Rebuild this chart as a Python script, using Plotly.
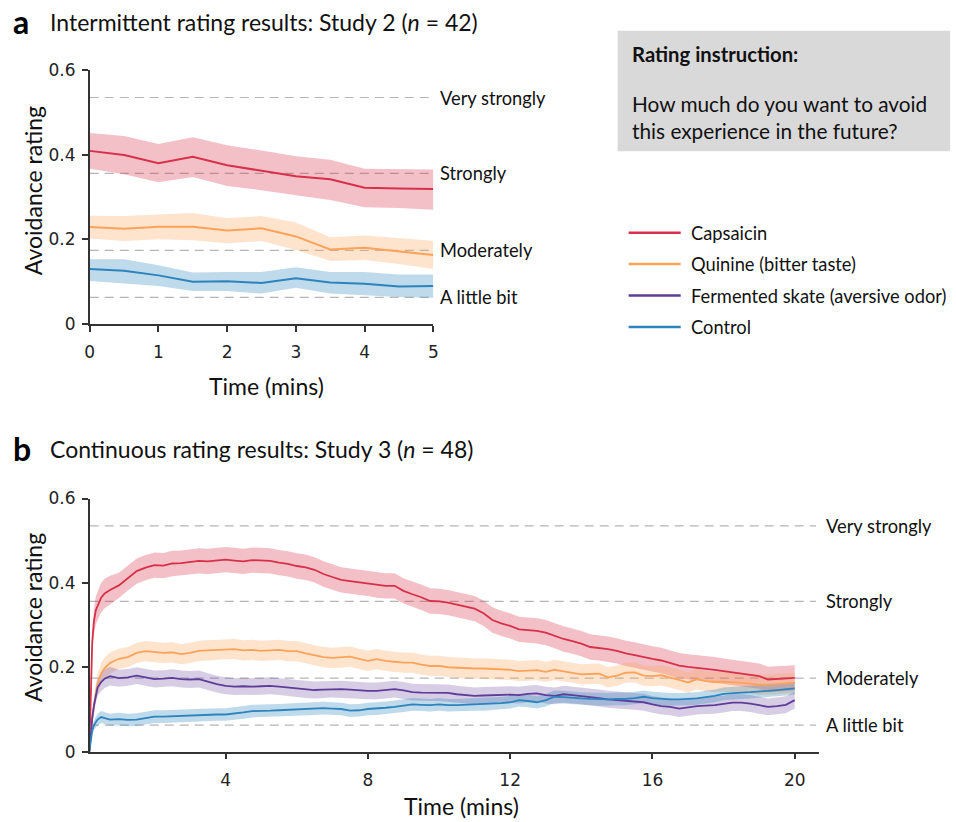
import plotly.graph_objects as go

# ---------------- Panel a data (intermittent, Study 2) ----------------
t_a = [0, 0.5, 1, 1.5, 2, 2.5, 3, 3.5, 4, 4.5, 5]
cap_a = [0.409, 0.399, 0.380, 0.395, 0.375, 0.362, 0.349, 0.342, 0.322, 0.320, 0.319]
cap_a_hi = [0.451, 0.444, 0.425, 0.441, 0.422, 0.410, 0.396, 0.388, 0.367, 0.366, 0.365]
cap_a_lo = [0.367, 0.354, 0.335, 0.347, 0.326, 0.316, 0.304, 0.293, 0.276, 0.274, 0.270]
qui_a = [0.229, 0.225, 0.230, 0.230, 0.221, 0.226, 0.207, 0.176, 0.180, 0.172, 0.163]
qui_a_hi = [0.256, 0.255, 0.259, 0.262, 0.250, 0.255, 0.240, 0.205, 0.209, 0.203, 0.197]
qui_a_lo = [0.202, 0.196, 0.200, 0.198, 0.191, 0.196, 0.175, 0.149, 0.151, 0.142, 0.130]
con_a = [0.130, 0.126, 0.115, 0.100, 0.101, 0.097, 0.108, 0.098, 0.095, 0.089, 0.090]
con_a_hi = [0.153, 0.153, 0.139, 0.122, 0.123, 0.123, 0.134, 0.123, 0.123, 0.117, 0.117]
con_a_lo = [0.102, 0.096, 0.090, 0.078, 0.078, 0.072, 0.086, 0.072, 0.068, 0.064, 0.062]

# ---------------- Panel b data (continuous, Study 3) ----------------
t_b_early = [0.17, 0.2, 0.25, 0.3, 0.35, 0.4, 0.5, 0.6, 0.75]
t_b_main = [round(1.0 + 0.25 * i, 2) for i in range(77)]
t_b = t_b_early + t_b_main

cap_b = [0.0, 0.12, 0.26, 0.31, 0.335, 0.345, 0.365, 0.375, 0.383,
         0.394, 0.412, 0.428, 0.436, 0.442, 0.441, 0.446, 0.447, 0.450, 0.452,
         0.451, 0.453, 0.455, 0.453, 0.451, 0.454, 0.453, 0.452, 0.448, 0.445,
         0.440, 0.437, 0.431, 0.421, 0.414, 0.407, 0.404, 0.401, 0.399, 0.395,
         0.393, 0.393, 0.381, 0.373, 0.366, 0.357, 0.356, 0.353, 0.348, 0.344,
         0.339, 0.328, 0.312, 0.304, 0.298, 0.290, 0.288, 0.286, 0.282, 0.275,
         0.267, 0.262, 0.256, 0.248, 0.246, 0.243, 0.239, 0.233, 0.229, 0.224,
         0.220, 0.216, 0.210, 0.204, 0.201, 0.199, 0.196, 0.194, 0.191, 0.188,
         0.185, 0.182, 0.179, 0.171, 0.172, 0.174, 0.175]
qui_b = [0.0, 0.04, 0.08, 0.11, 0.14, 0.16, 0.185, 0.198, 0.210,
         0.220, 0.224, 0.234, 0.238, 0.236, 0.234, 0.235, 0.231, 0.234, 0.239,
         0.240, 0.241, 0.243, 0.243, 0.240, 0.241, 0.239, 0.240, 0.241, 0.238,
         0.238, 0.233, 0.229, 0.224, 0.222, 0.223, 0.225, 0.220, 0.215, 0.219,
         0.215, 0.213, 0.211, 0.211, 0.206, 0.203, 0.203, 0.200, 0.199, 0.197,
         0.197, 0.197, 0.196, 0.195, 0.194, 0.191, 0.192, 0.193, 0.189, 0.194,
         0.190, 0.187, 0.183, 0.184, 0.185, 0.176, 0.180, 0.187, 0.188, 0.180,
         0.179, 0.181, 0.176, 0.170, 0.164, 0.172, 0.167, 0.165, 0.166, 0.165,
         0.163, 0.161, 0.158, 0.159, 0.160, 0.161, 0.163]
ska_b = [0.0, 0.04, 0.08, 0.11, 0.135, 0.152, 0.165, 0.173, 0.179,
         0.174, 0.176, 0.180, 0.176, 0.172, 0.173, 0.175, 0.172, 0.171, 0.172,
         0.166, 0.160, 0.156, 0.154, 0.155, 0.154, 0.155, 0.156, 0.154, 0.152,
         0.150, 0.147, 0.146, 0.147, 0.148, 0.148, 0.147, 0.145, 0.144, 0.144,
         0.146, 0.148, 0.145, 0.141, 0.140, 0.140, 0.140, 0.139, 0.136, 0.134,
         0.132, 0.133, 0.134, 0.134, 0.135, 0.134, 0.137, 0.138, 0.134, 0.132,
         0.136, 0.134, 0.132, 0.130, 0.127, 0.124, 0.122, 0.120, 0.119, 0.117,
         0.112, 0.108, 0.106, 0.102, 0.105, 0.108, 0.109, 0.110, 0.113, 0.116,
         0.116, 0.114, 0.110, 0.106, 0.108, 0.111, 0.122]
con_b = [0.0, 0.025, 0.05, 0.063, 0.07, 0.076, 0.082, 0.079, 0.076,
         0.077, 0.075, 0.076, 0.080, 0.083, 0.083, 0.084, 0.085, 0.086, 0.086,
         0.087, 0.088, 0.088, 0.090, 0.093, 0.096, 0.096, 0.097, 0.098, 0.099,
         0.100, 0.101, 0.102, 0.103, 0.102, 0.101, 0.097, 0.098, 0.101, 0.102,
         0.104, 0.106, 0.109, 0.112, 0.111, 0.110, 0.112, 0.110, 0.110, 0.111,
         0.112, 0.112, 0.113, 0.115, 0.117, 0.122, 0.120, 0.117, 0.122, 0.130,
         0.129, 0.127, 0.126, 0.125, 0.124, 0.124, 0.125, 0.125, 0.127, 0.130,
         0.127, 0.125, 0.124, 0.124, 0.125, 0.126, 0.129, 0.132, 0.137, 0.139,
         0.140, 0.141, 0.142, 0.144, 0.146, 0.148, 0.150]

sem_cap_b = [0.0, 0.012, 0.025, 0.030, 0.033, 0.034, 0.035, 0.035, 0.034] + [0.030] * 77
sem_qui_b = [0.0, 0.008, 0.015, 0.020, 0.022, 0.024, 0.025, 0.025, 0.025] + [0.024] * 77
sem_ska_b = [0.0, 0.008, 0.014, 0.018, 0.020, 0.021, 0.022, 0.022, 0.022] + [0.020] * 77
sem_con_b = [0.0, 0.005, 0.010, 0.012, 0.013, 0.014, 0.014, 0.014, 0.014] + [0.015] * 77

# ---------------- labels ----------------
level_values = [0.535, 0.356, 0.174, 0.063]
level_labels = ["Very strongly", "Strongly", "Moderately", "A little bit"]
legend_names = ["Capsaicin", "Quinine (bitter taste)", "Fermented skate (aversive odor)", "Control"]

RED, ORA, PUR, BLU = "#d7304a", "#fca35a", "#5e3c99", "#2c83bd"
BAND = {RED: "rgba(215,48,74,0.30)", ORA: "rgba(252,163,90,0.30)",
        PUR: "rgba(94,60,153,0.25)", BLU: "rgba(44,131,189,0.30)"}

# layout helpers: target pixel positions -> paper fractions
SX, SY, CX, CY = 0.988, 0.972, -2.5, 2.5
OFF = 8
W, H = 964, 840
def px(x):
    return ((x - CX) / SX - OFF) / W
def py(y):
    return 1 - ((y - CY) / SY - OFF) / H

TXT = "Lato"
NUM = "DejaVu Sans"
AX = "#333333"

fig = go.Figure()

def band(x, lo, hi, color, xa, ya):
    fig.add_trace(go.Scatter(x=list(x) + list(x)[::-1], y=list(hi) + list(lo)[::-1],
                             fill="toself", fillcolor=BAND[color], line=dict(width=0),
                             mode="lines", hoverinfo="skip", showlegend=False,
                             xaxis=xa, yaxis=ya))

def line(x, y, color, xa, ya, w=2):
    fig.add_trace(go.Scatter(x=x, y=y, mode="lines", line=dict(color=color, width=w),
                             showlegend=False, xaxis=xa, yaxis=ya))

# panel a
for lo, hi, c in [(cap_a_lo, cap_a_hi, RED), (qui_a_lo, qui_a_hi, ORA), (con_a_lo, con_a_hi, BLU)]:
    band(t_a, lo, hi, c, "x", "y")
for m, c in [(cap_a, RED), (qui_a, ORA), (con_a, BLU)]:
    line(t_a, m, c, "x", "y")

# panel b
series_b = [(cap_b, sem_cap_b, RED), (qui_b, sem_qui_b, ORA), (ska_b, sem_ska_b, PUR), (con_b, sem_con_b, BLU)]
for m, s, c in series_b:
    band(t_b, [a - b for a, b in zip(m, s)], [a + b for a, b in zip(m, s)], c, "x2", "y2")
for m, s, c in series_b:
    line(t_b, m, c, "x2", "y2", w=1.8)

axis_common = dict(showline=True, linecolor=AX, linewidth=1.5, ticks="outside",
                   tickcolor=AX, tickwidth=1.5, ticklen=6, showgrid=False, zeroline=False,
                   tickfont=dict(family=NUM, size=17, color="#222"))

fig.update_layout(
    width=W, height=H, margin=dict(l=0, r=0, t=0, b=0),
    paper_bgcolor="white", plot_bgcolor="white", showlegend=False,
    xaxis=dict(domain=[px(90), px(433)], range=[0, 5], tickvals=[0, 1, 2, 3, 4, 5],
               anchor="y", ticklabelstandoff=6, **axis_common),
    yaxis=dict(domain=[py(323), py(70)], range=[0, 0.6], tickvals=[0, 0.2, 0.4, 0.6],
               ticktext=["0", "0.2", "0.4", "0.6"], anchor="x", ticklabelstandoff=3, **axis_common),
    xaxis2=dict(domain=[px(90), px(818)], range=[0.18, 20.68], tickvals=[4, 8, 12, 16, 20],
                anchor="y2", ticklabelstandoff=6, **axis_common),
    yaxis2=dict(domain=[py(748.7), py(496.7)], range=[0, 0.6], tickvals=[0, 0.2, 0.4, 0.6],
                ticktext=["0", "0.2", "0.4", "0.6"], anchor="x2", ticklabelstandoff=3, **axis_common),
)

shapes = []
annotations = []

# dashed reference levels + labels
for xr, yr, xend in [("x domain", "y", 1.0), ("x2 domain", "y2", 0.996)]:
    for v, lab in zip(level_values, level_labels):
        shapes.append(dict(type="line", xref=xr, yref=yr, x0=0, x1=xend, y0=v, y1=v,
                           line=dict(color="#b5b5b5", width=1.2, dash="9px,6px"), layer="below"))
        annotations.append(dict(xref=xr, yref=yr, x=1.0, y=v,
                                xshift=5, text=lab, showarrow=False, xanchor="left", yanchor="middle",
                                font=dict(family=TXT, size=18.3, color="#111")))

# panel titles
for ypx, letter, title in [(22, "a", "Intermittent rating results: Study 2 (<i>n</i> = 42)"),
                           (447, "b", "Continuous rating results: Study 3 (<i>n</i> = 48)")]:
    annotations.append(dict(xref="paper", yref="paper", x=px(11), y=py(ypx), text="<b>%s</b>" % letter,
                            showarrow=False, xanchor="left", yanchor="middle",
                            font=dict(family=TXT, size=32, color="#000")))
    annotations.append(dict(xref="paper", yref="paper", x=px(48), y=py(ypx), text=title,
                            showarrow=False, xanchor="left", yanchor="middle",
                            font=dict(family=TXT, size=23, color="#111")))

# axis titles
for ypx in [190, 615]:
    annotations.append(dict(xref="paper", yref="paper", x=px(34), y=py(ypx), text="Avoidance rating",
                            textangle=-90, showarrow=False, xanchor="center", yanchor="middle",
                            font=dict(family=TXT, size=23, color="#111")))
for xpx, ypx in [(266, 385), (461, 803)]:
    annotations.append(dict(xref="paper", yref="paper", x=px(xpx), y=py(ypx), text="Time (mins)",
                            showarrow=False, xanchor="center", yanchor="middle",
                            font=dict(family=TXT, size=23, color="#111")))

# instruction box
shapes.append(dict(type="rect", xref="paper", yref="paper", x0=px(617), x1=px(949), y0=py(151), y1=py(31),
                   fillcolor="#d9d9d9", line=dict(width=0), layer="below"))
annotations.append(dict(xref="paper", yref="paper", x=px(629), y=py(54), text="<b>Rating instruction:</b>",
                        showarrow=False, xanchor="left", yanchor="middle",
                        font=dict(family=TXT, size=20.3, color="#111")))
annotations.append(dict(xref="paper", yref="paper", x=px(629), y=py(117),
                        text="How much do you want to avoid<br>this experience in the future?",
                        showarrow=False, xanchor="left", yanchor="middle", align="left",
                        font=dict(family=TXT, size=20.8, color="#111")))

# legend
for i, (name, c) in enumerate(zip(legend_names, [RED, ORA, PUR, BLU])):
    ypx = 232 + i * 31.3
    shapes.append(dict(type="line", xref="paper", yref="paper", x0=px(628), x1=px(680), y0=py(ypx), y1=py(ypx),
                       line=dict(color=c, width=2.5)))
    annotations.append(dict(xref="paper", yref="paper", x=px(688), y=py(ypx), text=name,
                            showarrow=False, xanchor="left", yanchor="middle",
                            font=dict(family=TXT, size=18.3, color="#111")))

fig.update_layout(shapes=shapes, annotations=annotations)
fig.write_html("out.html")
